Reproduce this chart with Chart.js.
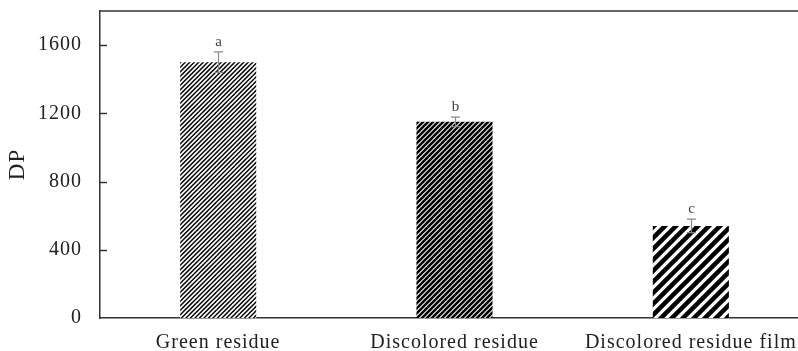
<!DOCTYPE html>
<html><head><meta charset="utf-8">
<script src="https://cdn.jsdelivr.net/npm/chart.js@4"></script>
<style>html,body{margin:0;padding:0;overflow:hidden;background:#fff;width:798px;height:351px}
#wrap{width:810px;height:351px;position:relative}</style>
</head><body><div id="wrap"><canvas id="c" width="810" height="351"></canvas></div>
<script>
const categories = ['Green residue', 'Discolored residue', 'Discolored residue film'];
const dpValues = [1500, 1150, 540];
const dpErrors = [60, 28, 40];
const sigLetters = ['a', 'b', 'c'];
const yTickValues = [0, 400, 800, 1200, 1600];
const yMin = 0;
const yMax = 1800;

function hatch(period, lw) {
  const size = period * 4;
  const c = document.createElement('canvas');
  c.width = size; c.height = size;
  const g = c.getContext('2d');
  g.fillStyle = '#fff'; g.fillRect(0, 0, size, size);
  g.strokeStyle = '#000'; g.lineWidth = lw; g.lineCap = 'square';
  for (let o = -size; o <= size; o += period) {
    g.beginPath();
    g.moveTo(o - period, size + period); g.lineTo(o + size + period, -period);
    g.stroke();
  }
  return g.createPattern(c, 'repeat');
}
const fills = [hatch(4.5, 1.5), hatch(5, 2.6), hatch(11, 4.5)];

const spacingPlugin = {
  id: 'spacing',
  beforeUpdate(chart) { chart.ctx.letterSpacing = '1px'; },
  beforeLayout(chart) { chart.ctx.letterSpacing = '1px'; },
  beforeDraw(chart) { chart.ctx.letterSpacing = '1px'; }
};

const decoPlugin = {
  id: 'deco',
  afterDraw(chart) {
    const ctx = chart.ctx, a = chart.chartArea, ys = chart.scales.y;
    ctx.save();
    ctx.letterSpacing = '0px';
    ctx.strokeStyle = '#333'; ctx.lineWidth = 1.5;
    ctx.beginPath(); ctx.moveTo(a.left, a.top); ctx.lineTo(a.right, a.top); ctx.stroke();
    yTickValues.forEach(v => {
      if (v === 0) return;
      const y = Math.round(ys.getPixelForValue(v)) + 0.5;
      ctx.beginPath(); ctx.moveTo(a.left, y); ctx.lineTo(a.left + 7, y); ctx.stroke();
    });
    const meta = chart.getDatasetMeta(0);
    meta.data.forEach((bar, i) => {
      const x = Math.round(bar.x) + 0.5;
      const yt = ys.getPixelForValue(dpValues[i] + dpErrors[i]);
      const yb = ys.getPixelForValue(dpValues[i] - dpErrors[i]);
      ctx.strokeStyle = '#888'; ctx.lineWidth = 1.2;
      ctx.beginPath();
      ctx.moveTo(x, yt); ctx.lineTo(x, yb);
      ctx.moveTo(x - 4.5, yt); ctx.lineTo(x + 4.5, yt);
      ctx.moveTo(x - 4.5, yb); ctx.lineTo(x + 4.5, yb);
      ctx.stroke();
      ctx.fillStyle = '#444';
      ctx.font = '15px "Liberation Serif", serif';
      ctx.textAlign = 'center'; ctx.textBaseline = 'alphabetic';
      ctx.fillText(sigLetters[i], x, yt - 6);
    });
    ctx.restore();
  }
};

new Chart(document.getElementById('c'), {
  type: 'bar',
  data: {
    labels: categories,
    datasets: [{
      data: dpValues,
      backgroundColor: fills,
      borderWidth: 0,
      categoryPercentage: 1,
      barPercentage: 0.322
    }]
  },
  options: {
    responsive: false,
    animation: false,
    devicePixelRatio: 1,
    layout: { padding: { top: 11, right: 1, left: 0, bottom: 0 } },
    plugins: { legend: { display: false }, tooltip: { enabled: false } },
    scales: {
      x: {
        grid: { display: false, drawTicks: false },
        border: { display: true, color: '#333', width: 1.5 },
        ticks: { color: '#222', padding: 13, maxRotation: 0, autoSkip: false,
                 font: { family: '"Liberation Serif", serif', size: 20 } },
        afterFit(s) { s.height = 33; }
      },
      y: {
        min: yMin, max: yMax,
        grid: { display: false, drawTicks: false },
        border: { display: true, color: '#333', width: 1.5 },
        afterBuildTicks(s) { s.ticks = yTickValues.map(v => ({ value: v })); },
        ticks: { color: '#222', padding: 18, callback: v => String(v),
                 font: { family: '"Liberation Serif", serif', size: 20 } },
        title: { display: true, text: 'DP', color: '#222',
                 font: { family: '"Liberation Serif", serif', size: 23 } },
        afterFit(s) { s.width = 100; s.paddingTop = 0; s.paddingBottom = 0; }
      }
    }
  },
  plugins: [spacingPlugin, decoPlugin]
});
</script></body></html>
